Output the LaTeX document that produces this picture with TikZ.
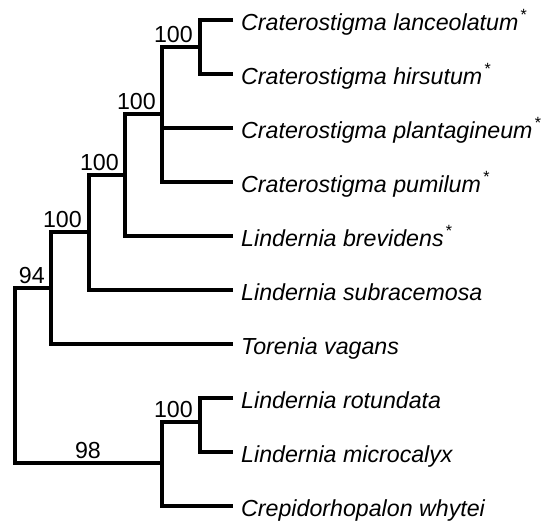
\documentclass[tikz,border=0pt]{standalone}
\usepackage{fontspec}
\setmainfont{Liberation Sans}
\usetikzlibrary{positioning}

\newcommand{\resurr}{\kern1.5pt\textsuperscript{*}}

\begin{document}
\begin{tikzpicture}[
  x=1pt, y=-1pt,
  node distance=33.6pt,
  taxon/.style={anchor=west, inner xsep=8pt, inner ysep=0pt, text height=20pt, text depth=0pt,
    font=\fontsize{23.2}{26}\selectfont\itshape},
  boot/.style={inner sep=0pt, font=\fontsize{23.2}{26}\selectfont},
  branch/.style={line width=3.3pt}
]
\useasboundingbox (0,0) rectangle (544,523);

% taxa
\node[taxon] (lanc) at (233,20) {Craterostigma lanceolatum\resurr};
\node[taxon, below=of lanc.south west, anchor=north west] (hirs) {Craterostigma hirsutum\resurr};
\node[taxon, below=of hirs.south west, anchor=north west] (plan) {Craterostigma plantagineum\resurr};
\node[taxon, below=of plan.south west, anchor=north west] (pumi) {Craterostigma pumilum\resurr};
\node[taxon, below=of pumi.south west, anchor=north west] (brev) {Lindernia brevidens\resurr};
\node[taxon, below=of brev.south west, anchor=north west] (subr) {Lindernia subracemosa};
\node[taxon, below=of subr.south west, anchor=north west] (tore) {Torenia vagans};
\node[taxon, below=of tore.south west, anchor=north west] (rotu) {Lindernia rotundata};
\node[taxon, below=of rotu.south west, anchor=north west] (micr) {Lindernia microcalyx};
\node[taxon, below=of micr.south west, anchor=north west] (crep) {Crepidorhopalon whytei};

% internal nodes
\coordinate (pairA) at (200,47);
\coordinate (crat) at (162,114);
\coordinate (cladeB) at (125,175);
\coordinate (cladeC) at (89,232);
\coordinate (cladeD) at (51,288);
\coordinate (pairE) at (200,422);
\coordinate (cladeF) at (162,463);
\coordinate (root) at (15,380);

% branches
\draw[branch] (lanc.west) -| (pairA) |- (hirs.west);
\draw[branch] (pairA) -| (crat) |- (pumi.west);
\draw[branch] (plan.west) -- (plan.west -| crat);
\draw[branch] (crat) -| (cladeB) |- (brev.west);
\draw[branch] (cladeB) -| (cladeC) |- (subr.west);
\draw[branch] (cladeC) -| (cladeD) |- (tore.west);
\draw[branch] (rotu.west) -| (pairE) |- (micr.west);
\draw[branch] (pairE) -| (cladeF) |- (crep.west);
\draw[branch] (cladeD) -| (root) |- (cladeF);

% support values
\node[boot, anchor=base east] (bA) at ([xshift=-7pt,yshift=5pt]pairA) {100};
\node[boot, anchor=base east] (bcrat) at ([xshift=-6pt,yshift=5pt]crat) {100};
\node[boot, anchor=base east] (bB) at ([xshift=-6pt,yshift=5pt]cladeB) {100};
\node[boot, anchor=base east] (bC) at ([xshift=-7pt,yshift=5pt]cladeC) {100};
\node[boot, anchor=base east] (bD) at ([xshift=-6pt,yshift=5pt]cladeD) {94};
\node[boot, anchor=base east] (bE) at ([xshift=-7pt,yshift=5pt]pairE) {100};
\node[boot, anchor=base] (bF) at (88,458) {98};
\end{tikzpicture}
\end{document}
